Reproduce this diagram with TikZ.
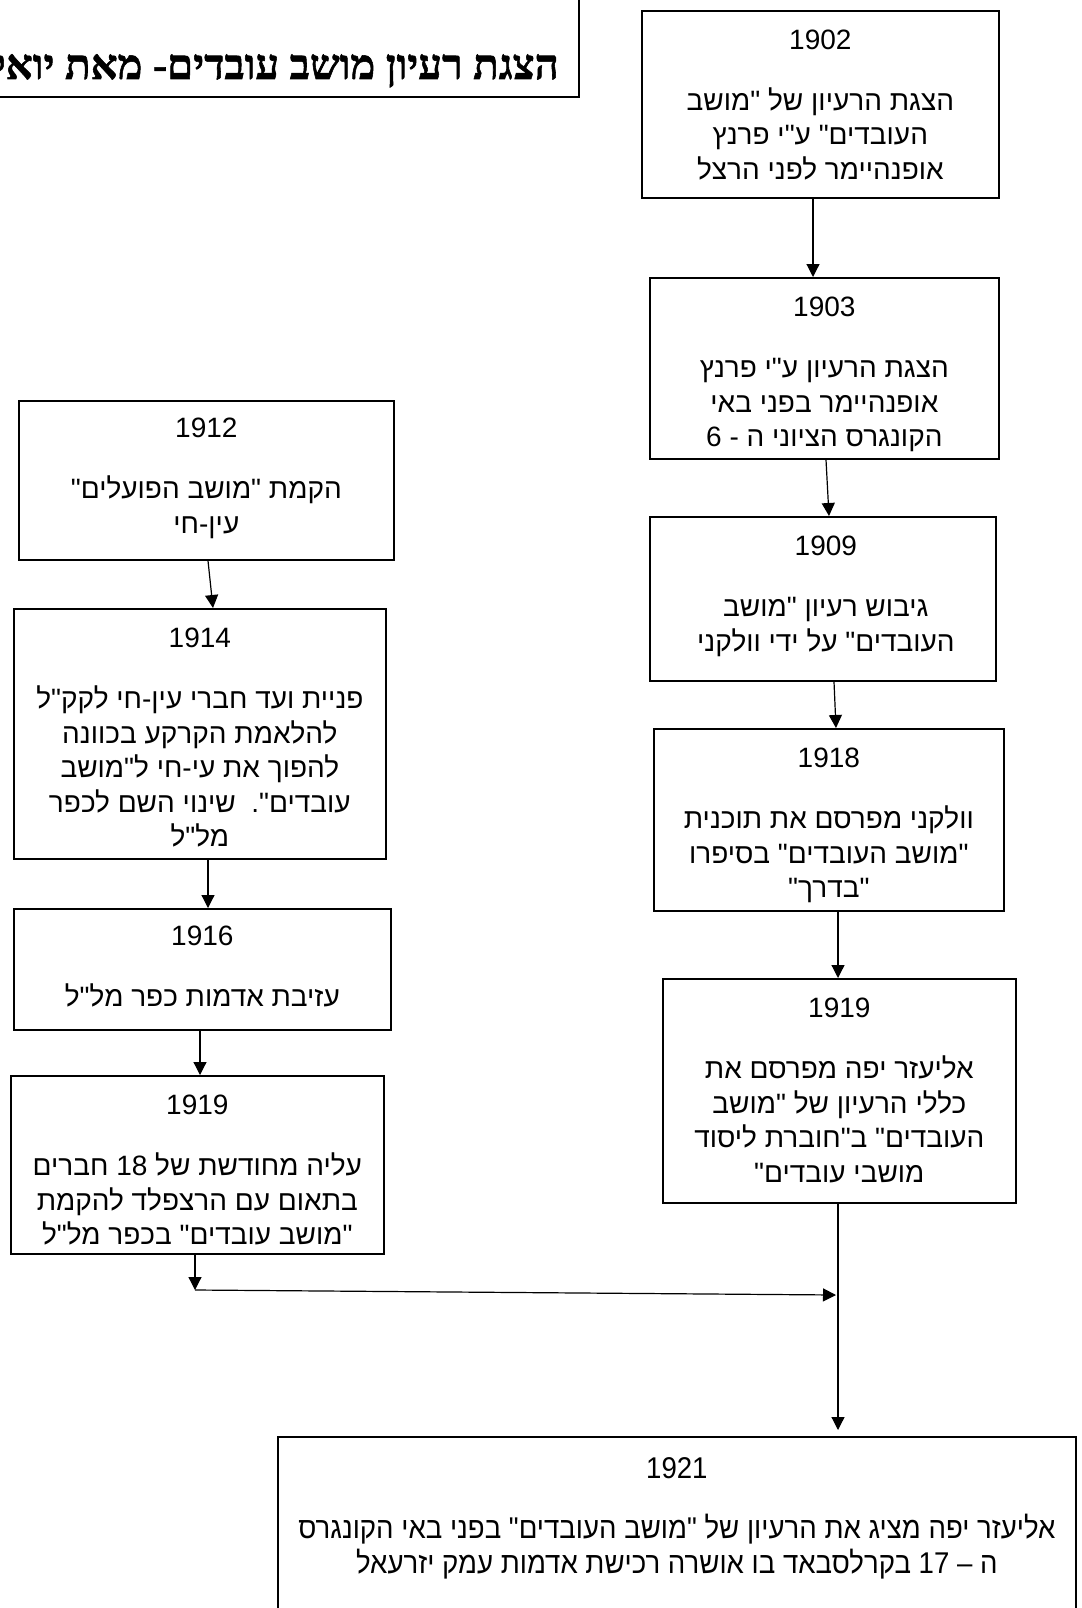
\documentclass[tikz,border=0pt]{standalone}
\usepackage{fontspec}
\usetikzlibrary{arrows.meta}
\TeXXeTstate=1
\newfontfamily\heb[Script=Hebrew]{Liberation Sans}
\newfontfamily\hebn[Script=Hebrew,FakeStretch=0.92]{Liberation Sans}
\newfontfamily\hebt[Script=Hebrew,BoldFeatures={FakeBold=1.3}]{Liberation Serif}
\newcommand\hs{\rule[-10.4pt]{0pt}{34.6pt}}
\newcommand\hsn{\rule[-10pt]{0pt}{33pt}}
\newcommand\RL[1]{\hs\beginR #1\endR}
\newcommand\RN[1]{\hsn\beginR #1\endR}
\begin{document}
\begin{tikzpicture}[x=1pt,y=-1pt,
  box/.style={draw, line width=1.7pt, anchor=north west, inner sep=0pt},
  txt/.style={font=\heb\fontsize{28}{34.6}\selectfont, align=center, anchor=north, inner sep=0pt},
  txtn/.style={font=\hebn\fontsize{30}{33}\selectfont, align=center, anchor=north, inner sep=0pt},
  arr/.style={line width=1.2pt, -{Triangle[length=13pt,width=13pt]}}]
\useasboundingbox (0,0) rectangle (1081,1608);
\begin{scope}
\clip (0,0) rectangle (1081,1608);
% title
\node[draw, line width=2.4pt, anchor=south east, minimum width=620pt, minimum height=120pt, inner sep=0pt] (tbox) at (580,98) {};
\node[font=\hebt\bfseries\fontsize{42}{46}\selectfont, anchor=base east, inner sep=0pt] (title) at (559,79) {\beginR הצגת רעיון מושב עובדים- מאת יואל\endR};
% right column
\node[box, minimum width=357pt, minimum height=187pt] (b1902) at (641,10) {};
\node[txt, yshift=-15pt] (t1902) at (b1902.north) {\RL{1902}\\[26.4pt]\RL{הצגת הרעיון של "מושב}\\\RL{העובדים" ע"י פרנץ}\\\RL{אופנהיימר לפני הרצל}};
\node[box, minimum width=349pt, minimum height=181pt] (b1903) at (649,277) {};
\node[txt, yshift=-15pt] (t1903) at (b1903.north) {\RL{1903}\\[26.4pt]\RL{הצגת הרעיון ע"י פרנץ}\\\RL{אופנהיימר בפני באי}\\\RL{הקונגרס הציוני ה - 6}};
\node[box, minimum width=346pt, minimum height=164pt] (b1909) at (649,516) {};
\node[txt, xshift=3pt, yshift=-15pt] (t1909) at (b1909.north) {\RL{1909}\\[26.4pt]\RL{גיבוש רעיון "מושב}\\\RL{העובדים" על ידי וולקני}};
\node[box, minimum width=350pt, minimum height=182pt] (b1918) at (653,728) {};
\node[txt, yshift=-15pt] (t1918) at (b1918.north) {\RL{1918}\\[26.4pt]\RL{וולקני מפרסם את תוכנית}\\\RL{"מושב העובדים" בסיפרו}\\\RL{"בדרך"}};
\node[box, minimum width=353pt, minimum height=224pt] (b1919r) at (662,978) {};
\node[txt, yshift=-15pt] (t1919r) at (b1919r.north) {\RL{1919}\\[26.4pt]\RL{אליעזר יפה מפרסם את}\\\RL{כללי הרעיון של "מושב}\\\RL{העובדים" ב"חוברת ליסוד}\\\RL{מושבי עובדים"}};
% bottom box
\node[box, minimum width=798pt, minimum height=220pt] (b1921) at (277,1436) {};
\node[txtn, yshift=-19pt] (t1921) at (b1921.north) {\RN{1921}\\[25pt]\RN{אליעזר יפה מציג את הרעיון של "מושב העובדים" בפני באי הקונגרס}\\\RN{ה – 17 בקרלסבאד בו אושרה רכישת אדמות עמק יזרעאל}};
% left column
\node[box, minimum width=375pt, minimum height=159pt] (b1912) at (18,400) {};
\node[txt, yshift=-13pt] (t1912) at (b1912.north) {\RL{1912}\\[26.4pt]\RL{הקמת "מושב הפועלים"}\\\RL{עין-חי}};
\node[box, minimum width=372pt, minimum height=250pt] (b1914) at (13,608) {};
\node[txt, yshift=-15pt] (t1914) at (b1914.north) {\RL{1914}\\[26.4pt]\RL{פניית ועד חברי עין-חי לקק"ל}\\\RL{להלאמת הקרקע בכוונה}\\\RL{להפוך את עי-חי ל"מושב}\\\RL{עובדים".\ \ שינוי השם לכפר}\\\RL{מל"ל}};
\node[box, minimum width=377pt, minimum height=121pt] (b1916) at (13,908) {};
\node[txt, yshift=-13pt] (t1916) at (b1916.north) {\RL{1916}\\[26.4pt]\RL{עזיבת אדמות כפר מל"ל}};
\node[box, minimum width=373pt, minimum height=178pt] (b1919l) at (10,1075) {};
\node[txt, yshift=-15pt] (t1919l) at (b1919l.north) {\RL{1919}\\[26.4pt]\RL{עליה מחודשת של 18 חברים}\\\RL{בתאום עם הרצפלד להקמת}\\\RL{"מושב עובדים" בכפר מל"ל}};
% connectors
\draw[arr] (b1902.south -| 813,0) -- (b1903.north -| 813,0);
\draw[arr] (b1903.south -| 826,0) -- (b1909.north -| 829,0);
\draw[arr] (b1909.south -| 834,0) -- (b1918.north -| 836,0);
\draw[arr] (b1918.south -| 838,0) -- (b1919r.north -| 838,0);
\draw[arr] (b1912.south -| 208,0) -- (b1914.north -| 213,0);
\draw[arr] (b1914.south -| 208,0) -- (b1916.north -| 208,0);
\draw[arr] (b1916.south -| 200,0) -- (b1919l.north -| 200,0);
\coordinate (jl) at (195,1290);
\coordinate (jr) at (836,1295);
\draw[arr] (b1919l.south -| jl) -- (jl);
\draw[arr] (jl) -- (jr);
\draw[arr] (b1919r.south -| 838,0) -- ([yshift=6pt]b1921.north -| 838,0);
\end{scope}
\end{tikzpicture}
\end{document}
